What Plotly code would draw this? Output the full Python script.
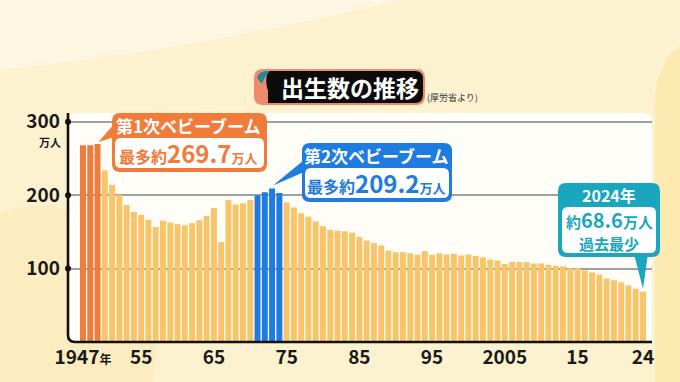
import plotly.graph_objects as go

# ---------------- data ----------------
years = list(range(1947, 2025))
births = [267.9, 268.2, 269.7, 233.8, 213.8, 200.5, 186.8, 177.0, 173.1, 166.5,
          156.7, 165.3, 162.6, 160.6, 158.9, 161.9, 166.0, 171.7, 182.4, 136.1,
          193.6, 187.2, 188.9, 193.4, 200.1, 203.9, 209.2, 203.0, 190.1, 183.3,
          175.5, 170.9, 164.3, 157.7, 152.9, 151.5, 150.9, 149.0, 143.2, 138.3,
          134.7, 131.4, 124.7, 122.2, 122.3, 120.9, 118.8, 123.8, 118.7, 120.7,
          119.2, 120.3, 117.8, 119.1, 117.1, 115.4, 112.4, 111.1, 106.3, 109.3,
          109.0, 109.1, 107.0, 107.1, 105.1, 103.7, 103.0, 100.4, 100.6, 97.7,
          94.6, 91.8, 86.5, 84.1, 81.2, 77.1, 72.7, 68.6]
boom1_years = [1947, 1948, 1949]
boom2_years = [1971, 1972, 1973, 1974]
x_tickvals = [1947, 1955, 1965, 1975, 1985, 1995, 2005, 2015, 2024]
x_ticktext = ["1947<span style='font-size:12px'>年</span>", "55", "65", "75", "85",
              "95", "2005", "15", "24"]
y_tickvals = [100, 200, 300]
y_ticktext = ["100", "200", "300"]

# ---------------- geometry ----------------
W, H = 680, 382
L, R, T, B = 68, 28, 113, 40
PW, PH = W - L - R, H - T - B
XR = [1944.94, 2025.24]
YR = [0, 312]

ORANGE = "#F07B3A"
BLUE = "#1E7BE0"
TEAL = "#1AA6BF"
BAR = "#F9C56B"
FONT = "Noto Sans CJK JP"


def P(x, y):
    """pixel -> paper"""
    return (x - L) / PW, (H - B - y) / PH


def D(xd, yd):
    """data -> pixel"""
    return (L + (xd - XR[0]) / (XR[1] - XR[0]) * PW,
            H - B - (yd - YR[0]) / (YR[1] - YR[0]) * PH)


def f(x, y):
    a, b = P(x, y)
    return f"{a:.5f},{b:.5f}"


def rrect(x0, y0, x1, y1, r, rounded=(True, True, True, True)):
    tl, tr, br, bl = [r if c else 0 for c in rounded]
    s = f"M{f(x0 + tl, y0)} L{f(x1 - tr, y0)} Q{f(x1, y0)} {f(x1, y0 + tr)} "
    s += f"L{f(x1, y1 - br)} Q{f(x1, y1)} {f(x1 - br, y1)} "
    s += f"L{f(x0 + bl, y1)} Q{f(x0, y1)} {f(x0, y1 - bl)} "
    s += f"L{f(x0, y0 + tl)} Q{f(x0, y0)} {f(x0 + tl, y0)} Z"
    return s


def poly(pts):
    s = ""
    for i, (x, y) in enumerate(pts):
        s += ("M" if i == 0 else " L") + f(x, y)
    return s + " Z"


shapes = []
annotations = []


def add_path(path, fill, layer="above"):
    shapes.append(dict(type="path", path=path, xref="paper", yref="paper",
                       fillcolor=fill, layer=layer, line=dict(color=fill, width=0)))


def add_text(x, y, text, size, color, weight=700, xanchor="center"):
    a, b = P(x, y)
    annotations.append(dict(x=a, y=b, xref="paper", yref="paper", text=text,
                            showarrow=False, xanchor=xanchor, yanchor="middle",
                            font=dict(family=FONT, size=size, color=color, weight=weight)))


# background decoration
add_path(rrect(-10, -10, 690, 392, 0), "#FDF2D0", layer="below")
add_path(f"M{f(-5, 215)} Q{f(60, 185)} {f(140, 250)} Q{f(170, 300)} {f(150, 392)} L{f(-5, 392)} Z",
         "#FCEDC0", layer="below")
add_path(f"M{f(-5, -5)} L{f(420, -5)} Q{f(200, 50)} {f(-5, 70)} Z", "#FEF6E0", layer="below")
add_path(f"M{f(690, 40)} Q{f(650, 60)} {f(655, 120)} L{f(655, 392)} L{f(690, 392)} Z",
         "#FCEAB0", layer="below")

# white plot panel
add_path(rrect(68, 113, 652, 342, 9), "#FFFDF7", layer="below")

# axis L-line with rounded corner
r = 7
shapes.append(dict(type="path", xref="paper", yref="paper", layer="above",
                   path=f"M{f(68, 113)} L{f(68, 342 - r)} Q{f(68, 342)} {f(68 + r, 342)} L{f(652, 342)}",
                   line=dict(color="#111111", width=2.6)))

# tick dots
for v in y_tickvals:
    cx, cy = D(XR[0], v)
    p0 = P(cx - 3, cy - 3); p1 = P(cx + 3, cy + 3)
    shapes.append(dict(type="circle", xref="paper", yref="paper", layer="above",
                       x0=p0[0], x1=p1[0], y0=p1[1], y1=p0[1],
                       fillcolor="#111111", line=dict(width=0)))

# "万人" under 300
add_text(50, 142, "万人", 11, "#1a1a1a", 700)

# ---------------- title ----------------
add_path(rrect(254, 69, 425, 105, 9), "#EE8A6E")
add_path(rrect(268, 71, 423, 103, 8, (False, True, True, False)), "#0B0B0B")
add_path(f"M{f(268, 71)} Q{f(262, 88)} {f(276, 103)} L{f(280, 103)} L{f(280, 71)} Z", "#0B0B0B")
add_path(f"M{f(257, 78)} Q{f(259, 71)} {f(267, 71)} L{f(270, 71)} Q{f(264, 77)} {f(262, 84)} Z",
         "#1D8C96")
add_text(350, 87, "出生数の推移", 23, "#FFFFFF", 700)
add_text(452, 97, "(厚労省より)", 9, "#333333", 400)


# ---------------- callouts ----------------
def callout(box, inner, color, tail, lines):
    x0, y0, x1, y1 = box
    add_path(poly(tail), color)
    add_path(rrect(x0, y0, x1, y1, 8), color)
    ix0, iy0, ix1, iy1 = inner
    add_path(rrect(ix0, iy0, ix1, iy1, 6), "#FFFFFF")
    for (x, y, t, s, c) in lines:
        add_text(x, y, t, s, c)


# boom 1
i1 = years.index(1949)
tx, ty = D(1949, births[i1])
callout((112, 113, 267, 172), (115, 138, 264, 168), ORANGE,
        [(tx + 1, ty - 2), (114, 124), (114, 137)],
        [(188, 125, "第1次ベビーブーム", 17, "#FFFFFF"),
         (188, 152.5, "最多約<span style='font-size:24px'>%.1f</span><span style='font-size:13px'>万人</span>" % births[i1], 16, ORANGE)])

# boom 2
i2 = years.index(1973)
tx, ty = D(1973, births[i2])
callout((302, 143, 452, 202), (305, 168, 449, 198), BLUE,
        [(tx + 1, ty - 3), (304, 160), (304, 172)],
        [(376, 155, "第2次ベビーブーム", 17, "#FFFFFF"),
         (376, 182.5, "最多約<span style='font-size:24px'>%.1f</span><span style='font-size:13px'>万人</span>" % births[i2], 16, BLUE)])

# 2024
i3 = years.index(2024)
tx, ty = D(2024, births[i3])
callout((558, 183, 660, 257), (562, 207, 656, 253), TEAL,
        [(634, 254), (648, 254), (tx, ty - 3)],
        [(609, 194.5, "2024年", 16, "#FFFFFF"),
         (609, 219, "約<span style='font-size:20px'>%.1f</span>万人" % births[i3], 15, TEAL),
         (609, 243, "過去最少", 15, TEAL)])

# ---------------- bars ----------------
colors = [ORANGE if y in boom1_years else BLUE if y in boom2_years else BAR for y in years]

fig = go.Figure(go.Bar(x=years, y=births, marker=dict(color=colors, line=dict(width=0)),
                       hoverinfo="x+y"))

fig.update_layout(
    width=W, height=H,
    margin=dict(l=L, r=R, t=T, b=B),
    paper_bgcolor="#FDF2D0",
    plot_bgcolor="rgba(0,0,0,0)",
    bargap=0.18,
    showlegend=False,
    shapes=shapes,
    annotations=annotations,
    xaxis=dict(range=XR, tickvals=x_tickvals, ticktext=x_ticktext, showgrid=False,
               zeroline=False, showline=False, ticks="", ticklabelstandoff=2,
               tickfont=dict(family=FONT, size=19, color="#1a1a1a", weight=700)),
    yaxis=dict(range=YR, tickvals=y_tickvals, ticktext=y_ticktext, showgrid=True,
               gridcolor="#A0A0A0", gridwidth=1.5, zeroline=False, showline=False,
               ticks="", ticklabelstandoff=7,
               tickfont=dict(family=FONT, size=19, color="#1a1a1a", weight=700)),
)

fig.write_html("out.html", config={"displayModeBar": False},
               post_script="document.body.style.margin='0';document.body.style.overflow='hidden';")
